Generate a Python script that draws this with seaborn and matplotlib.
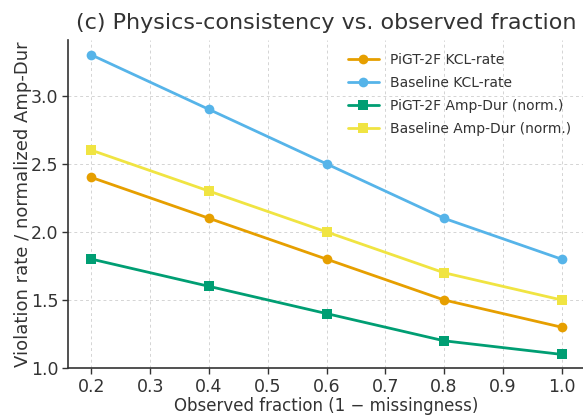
import pandas as pd
import matplotlib.pyplot as plt
import seaborn as sns

# valores
fraccion = [0.2, 0.4, 0.6, 0.8, 1.0]
pigt_kcl = [2.4, 2.1, 1.8, 1.5, 1.3]
base_kcl = [3.3, 2.9, 2.5, 2.1, 1.8]
pigt_amp = [1.8, 1.6, 1.4, 1.2, 1.1]
base_amp = [2.6, 2.3, 2.0, 1.7, 1.5]

series = ["PiGT-2F KCL-rate", "Baseline KCL-rate",
          "PiGT-2F Amp-Dur (norm.)", "Baseline Amp-Dur (norm.)"]
colores = ["#E69F00", "#56B4E9", "#009E73", "#F0E442"]
marcadores = ["o", "o", "s", "s"]

df = pd.DataFrame({
    "frac": fraccion * 4,
    "valor": pigt_kcl + base_kcl + pigt_amp + base_amp,
    "serie": [s for s in series for _ in fraccion],
})

sns.set_style("whitegrid")
plt.rcParams["font.family"] = ["DejaVu Sans"]
gris = "#333333"
plt.rcParams.update({"text.color": gris, "axes.labelcolor": gris,
                     "xtick.color": gris, "ytick.color": gris})

fig = plt.figure(figsize=(5.83, 4.17), dpi=100)
ax = fig.add_axes([68 / 583, 49 / 417, 517 / 583, 328 / 417])

sns.lineplot(data=df, x="frac", y="valor", hue="serie", style="serie",
             hue_order=series, style_order=series,
             palette=dict(zip(series, colores)),
             markers=dict(zip(series, marcadores)), dashes=False,
             linewidth=2, markersize=7, markeredgewidth=0, ax=ax)

ax.set_ylim(1.0, 3.41)
ax.set_xlim(0.16, 1.04)
ax.set_xticks([0.2, 0.3, 0.4, 0.5, 0.6, 0.7, 0.8, 0.9, 1.0])
ax.set_yticks([1.0, 1.5, 2.0, 2.5, 3.0])
ax.grid(True, linestyle=(0, (3, 3)), color="#d4d4d4", linewidth=0.7)
for lado in ["top", "right"]:
    ax.spines[lado].set_visible(False)
for lado in ["left", "bottom"]:
    ax.spines[lado].set_color(gris)
    ax.spines[lado].set_linewidth(1.2)
ax.tick_params(labelsize=12.5, length=4, width=1, pad=3, direction="out",
               left=True, bottom=True, color=gris)

ax.set_xlabel("Observed fraction (1 − missingness)", fontsize=12, labelpad=1)
ax.set_ylabel("Violation rate / normalized Amp-Dur", fontsize=13, labelpad=-1)
ax.set_title("(c) Physics-consistency vs. observed fraction", fontsize=16, pad=8)

leg = ax.legend(loc="upper right", bbox_to_anchor=(0.997, 1.0), frameon=False,
                fontsize=10, handlelength=2.2, labelspacing=0.65)

fig.savefig("out.png", dpi=100)
